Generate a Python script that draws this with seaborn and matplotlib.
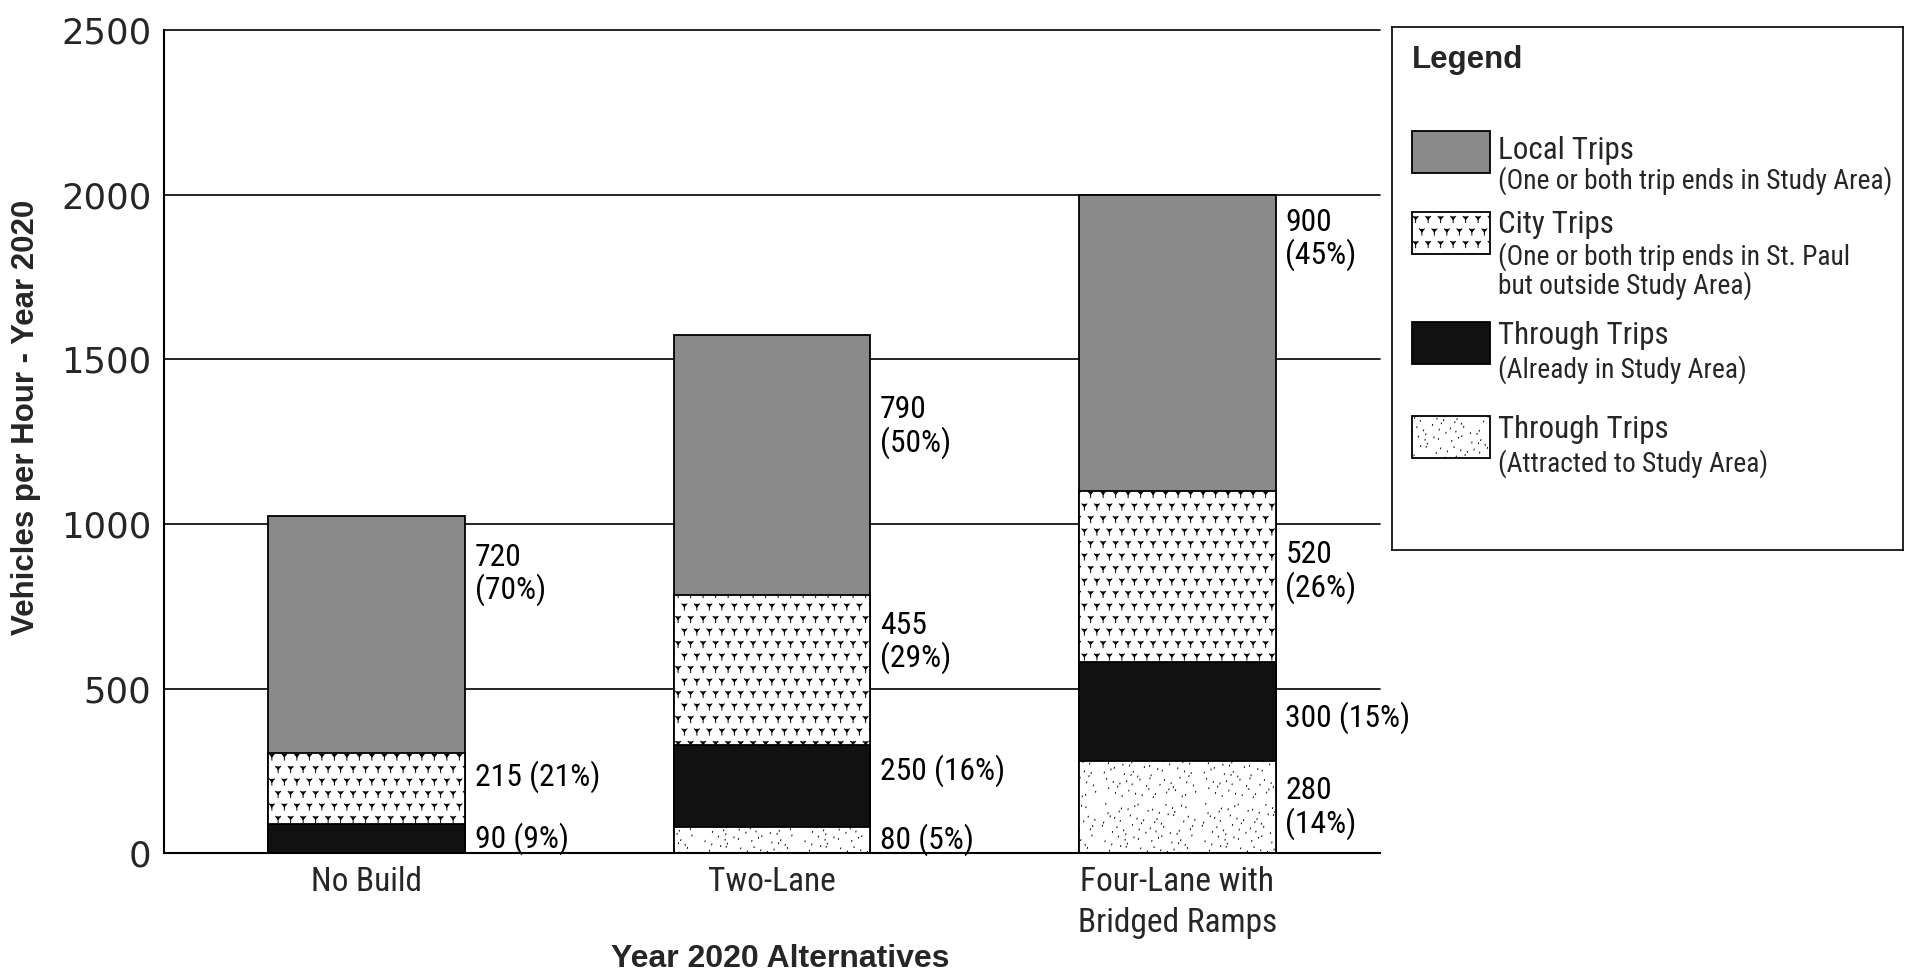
import warnings
warnings.filterwarnings("ignore")
import numpy as np
import pandas as pd
import matplotlib
matplotlib.use("Agg")
import matplotlib.pyplot as plt
import matplotlib.hatch as mhatch
from matplotlib.path import Path
from matplotlib.patches import Rectangle
from matplotlib import font_manager as fm
import seaborn as sns

# ---------------- data ----------------
alternatives = ["No Build", "Two-Lane", "Four-Lane with\nBridged Ramps"]
attracted_trips = [0, 80, 280]
through_trips = [90, 250, 300]
city_trips = [215, 455, 520]
local_trips = [720, 790, 900]
attracted_pct = [0, 5, 14]
through_pct = [9, 16, 15]
city_pct = [21, 29, 26]
local_pct = [70, 50, 45]
y_ticks = [0, 500, 1000, 1500, 2000, 2500]

legend_titles = ["Local Trips", "City Trips", "Through Trips", "Through Trips"]
legend_notes = ["(One or both trip ends in Study Area)",
                "(One or both trip ends in St. Paul\nbut outside Study Area)",
                "(Already in Study Area)",
                "(Attracted to Study Area)"]

# ---------------- layout (label anchors, styles) ----------------
label_y = {  # vertical centres of the value labels, per layer
    "local": [847, 1294, 1864],
    "city": [233, 640, 854],
    "through": [44, 251, 410],
    "attracted": [None, 41, 137],
}
label_two_lines = {
    "local": [True, True, True],
    "city": [False, True, True],
    "through": [False, False, False],
    "attracted": [False, False, True],
}


def _available(name):
    try:
        fm.findfont(fm.FontProperties(family=name), fallback_to_default=False)
        return True
    except Exception:
        return False


NARROW_FONT = next((f for f in ["Liberation Sans Narrow", "Roboto Condensed",
                                "DejaVu Sans Condensed"] if _available(f)), None)
BASE_FONT = NARROW_FONT or "Liberation Sans"
SZ = 1.2 if NARROW_FONT else 1.0   # narrow faces can be set larger


# custom "Y" hatch pattern (city trips)
class YHatch(mhatch.HatchPatternBase):
    def __init__(self, hatch, density):
        self.n = 8 if "y" in hatch else 0
        self.num_vertices = self.n * self.n * 5

    def set_vertices_and_codes(self, vertices, codes):
        n = self.n
        k = 0
        a = 0.2 / n
        for r in range(n):
            for c in range(n):
                cx = (c + 0.25 + 0.5 * (r % 2)) / n
                cy = (r + 0.45) / n
                vertices[k:k + 5] = [(cx - a, cy + 1.2 * a), (cx, cy), (cx + a, cy + 1.2 * a),
                                     (cx, cy), (cx, cy - 1.3 * a)]
                codes[k:k + 5] = [Path.MOVETO, Path.LINETO, Path.LINETO,
                                  Path.MOVETO, Path.LINETO]
                k += 5


def _halton(i, b):
    f, r = 1.0, 0.0
    while i > 0:
        f /= b
        r += f * (i % b)
        i //= b
    return r


# custom stipple pattern (attracted through trips)
class StippleHatch(mhatch.HatchPatternBase):
    N = 140

    def __init__(self, hatch, density):
        self.num_vertices = 2 * self.N if "s" in hatch else 0

    def set_vertices_and_codes(self, vertices, codes):
        for i in range(self.N):
            x = 0.02 + 0.95 * _halton(i + 1, 2)
            y = 0.02 + 0.95 * _halton(i + 1, 3)
            vertices[2 * i] = (x, y)
            vertices[2 * i + 1] = (x + 0.002, y + 0.008)
            codes[2 * i] = Path.MOVETO
            codes[2 * i + 1] = Path.LINETO


mhatch._hatch_types.append(YHatch)
mhatch._hatch_types.append(StippleHatch)

sns.set_style("white")
plt.rcParams["font.family"] = [BASE_FONT, "DejaVu Sans"]
plt.rcParams["hatch.linewidth"] = 0.7

styles = {
    "local": dict(facecolor="#8a8a8a", hatch=None),
    "city": dict(facecolor="white", hatch="y"),
    "through": dict(facecolor="#111111", hatch=None),
    "attracted": dict(facecolor="white", hatch="s"),
}

fig = plt.figure(figsize=(19.07, 9.75), dpi=100)
ax = fig.add_axes([0.086, 0.125, 0.6377, 0.844])

layers = ["attracted", "through", "city", "local"]
values = {"attracted": attracted_trips, "through": through_trips,
          "city": city_trips, "local": local_trips}
pcts = {"attracted": attracted_pct, "through": through_pct,
        "city": city_pct, "local": local_pct}
cum = np.cumsum([values[l] for l in layers], axis=0)
tops = {l: cum[i] for i, l in enumerate(layers)}

BAR_W = 0.485
for layer in ["local", "city", "through", "attracted"]:
    df = pd.DataFrame({"alt": alternatives, "top": tops[layer]})
    st = styles[layer]
    sns.barplot(data=df, x="alt", y="top", ax=ax, color=st["facecolor"],
                saturation=1, width=BAR_W, errorbar=None,
                edgecolor="black", linewidth=1.3, hatch=st["hatch"], zorder=2)

# value labels
for layer in layers:
    for i in range(len(alternatives)):
        v = values[layer][i]
        if v == 0:
            continue
        sep = "\n" if label_two_lines[layer][i] else " "
        ax.text(i + BAR_W / 2 + 0.024, label_y[layer][i], f"{v}{sep}({pcts[layer][i]}%)",
                ha="left", va="center", fontsize=19 * SZ, linespacing=1.08, color="black")

ax.set_xlim(-0.5, 2.5)
ax.set_ylim(0, 2500)
ax.set_yticks(y_ticks)
ax.set_yticklabels([str(t) for t in y_ticks], family="DejaVu Sans", fontsize=25.5)
ax.tick_params(axis="y", length=0, pad=9)
ax.tick_params(axis="x", length=0, pad=9, labelsize=20 * SZ)
for lbl in ax.get_xticklabels():
    lbl.set_linespacing(1.38)
ax.set_axisbelow(True)
ax.yaxis.grid(True, color="black", linewidth=1.2)
ax.xaxis.grid(False)
for gl in ax.yaxis.get_gridlines():
    gl.set_clip_on(False)
for s in ["top", "right"]:
    ax.spines[s].set_visible(False)
for s in ["left", "bottom"]:
    ax.spines[s].set_color("black")
    ax.spines[s].set_linewidth(1.5)

ax.set_xlabel("Year 2020 Alternatives", family="Liberation Sans", fontweight="bold", fontsize=23)
ax.set_ylabel("Vehicles per Hour - Year 2020", family="Liberation Sans", fontweight="bold", fontsize=22.5)
ax.xaxis.set_label_coords(0.507, -0.11)
ax.yaxis.set_label_coords(-0.101, 0.53)

# legend box
lax = fig.add_axes([0.730, 0.436, 0.268, 0.536])
lax.set_xlim(0, 511)
lax.set_ylim(523, 0)
lax.set_xticks([])
lax.set_yticks([])
for s in lax.spines.values():
    s.set_color("black")
    s.set_linewidth(1.2)
lax.text(20, 33, "Legend", family="Liberation Sans", fontweight="bold", fontsize=22.5,
         ha="left", va="center")
sw_top = [104, 185, 295, 389]
title_y = [123, 197, 308, 403]
note_y = [153, 244, 343, 437]
for k, layer in enumerate(["local", "city", "through", "attracted"]):
    st = styles[layer]
    lax.add_patch(Rectangle((20, sw_top[k]), 78, 42, facecolor=st["facecolor"],
                            edgecolor="black", linewidth=1.3, hatch=st["hatch"]))
    lax.text(106, title_y[k], legend_titles[k], fontsize=18.6 * SZ, ha="left", va="center")
    lax.text(106, note_y[k], legend_notes[k], fontsize=16.5 * SZ, ha="left", va="center",
             linespacing=1.05)

fig.savefig("out.png", dpi=100)
